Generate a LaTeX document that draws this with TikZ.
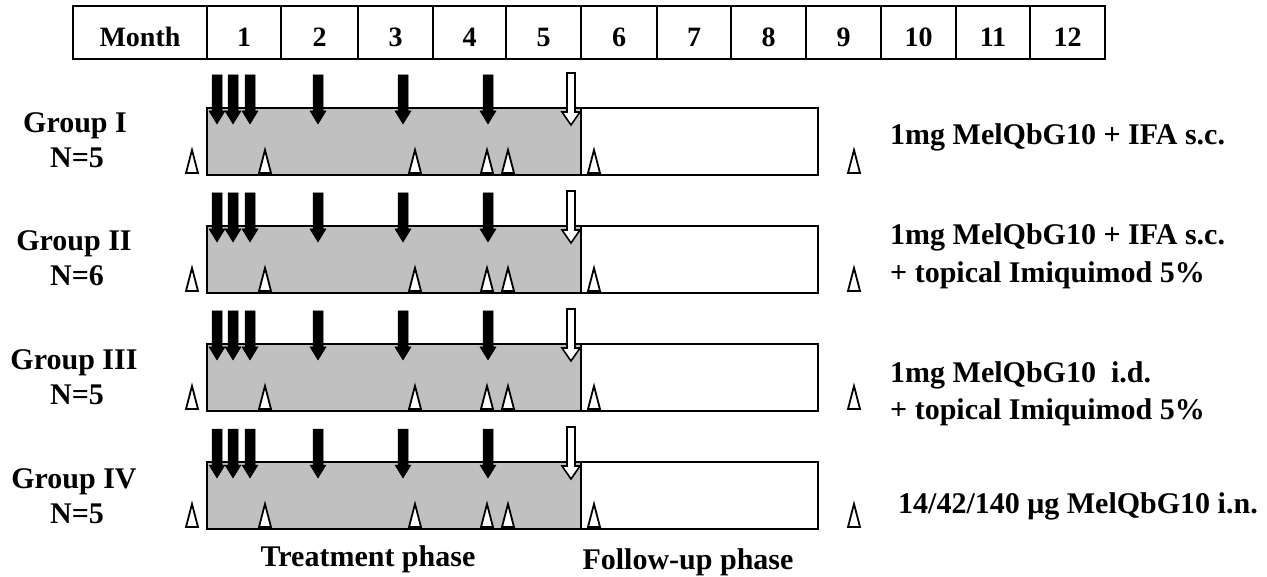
\documentclass[tikz,border=0pt]{standalone}
\usepackage{fontspec}
\setmainfont{Liberation Serif}
\definecolor{phasegray}{RGB}{192,192,192}
\begin{document}
\begin{tikzpicture}[x=1pt,y=-1pt,
  hdrcell/.style={draw, line width=2.5pt},
  hdrtxt/.style={font=\fontsize{28}{32}\selectfont\bfseries, anchor=base, inner sep=0pt},
  lbl/.style={font=\fontsize{30}{35}\selectfont\bfseries, anchor=base, inner sep=0pt},
  rlbl/.style={font=\fontsize{30}{35}\selectfont\bfseries, anchor=base west, inner sep=0pt},
  treatbox/.style={draw, line width=2pt, fill=phasegray},
  followbox/.style={draw, line width=2pt, fill=white},
  blackarr/.style={fill=black, draw=black, line width=0.5pt, line join=miter},
  openarr/.style={fill=white, draw=black, line width=1.6pt, line join=miter},
  visit/.style={fill=white, draw=black, line width=1.8pt, line join=miter}]
\useasboundingbox (0,0) rectangle (1267,577);
% header
\foreach \xa/\xb/\t [count=\i] in {73/207/Month,207/281/1,281/358/2,358/433/3,433/506/4,506/581/5,581/657/6,657/731/7,731/806/8,806/881/9,881/956/10,956/1030/11,1030/1105/12}{
  \draw[hdrcell] (\xa,6) rectangle (\xb,59);
  \node[hdrtxt] (hd\i) at ({(\xa+\xb)/2},47) {\t};
}
% groups
\foreach \g/\gt in {1/108,2/226,3/344,4/462}{
  \draw[treatbox] (207,\gt) rectangle (581,{\gt+67});
  \draw[followbox] (581,\gt) rectangle (818,{\gt+67});
  \foreach \ax in {217,233,250,318,403,488}{
    \filldraw[blackarr] ({\ax-5},{\gt-33}) -- ({\ax+5},{\gt-33}) -- ({\ax+5},{\gt+3}) -- ({\ax+8},{\gt+3}) -- (\ax,{\gt+16}) -- ({\ax-8},{\gt+3}) -- ({\ax-5},{\gt+3}) -- cycle;
  }
  \filldraw[openarr] (567,{\gt-35}) -- (575,{\gt-35}) -- (575,{\gt+4}) -- (580,{\gt+4}) -- (571,{\gt+17}) -- (562,{\gt+4}) -- (567,{\gt+4}) -- cycle;
  \foreach \tx in {192,265,415,487,508,594,854}{
    \filldraw[visit] ({\tx-6},{\gt+65}) -- (\tx,{\gt+42}) -- ({\tx+6},{\gt+65}) -- cycle;
  }
}
% group labels
\node[lbl] (g1) at (75,133) {Group I};
\node[lbl] (n1) at (77,168) {N=5};
\node[lbl] (g2) at (74,251) {Group II};
\node[lbl] (n2) at (77,286) {N=6};
\node[lbl] (g3) at (74,370) {Group III};
\node[lbl] (n3) at (77,405) {N=5};
\node[lbl] (g4) at (74,488) {Group IV};
\node[lbl] (n4) at (77,523) {N=5};
% treatments
\node[rlbl] (t1) at (890,145) {1mg MelQbG10 + IFA s.c.};
\node[rlbl] (t2a) at (890,245) {1mg MelQbG10 + IFA s.c.};
\node[rlbl] (t2b) at (890,283) {+ topical Imiquimod 5\%};
\node[rlbl] (t3a) at (890,382) {1mg MelQbG10\ \ i.d.};
\node[rlbl] (t3b) at (890,420) {+ topical Imiquimod 5\%};
\node[rlbl] (t4) at (898,513) {14/42/140 μg MelQbG10 i.n.};
% phases
\node[lbl] (ph1) at (368,566) {Treatment phase};
\node[lbl] (ph2) at (688,569) {Follow-up phase};
\end{tikzpicture}
\end{document}
